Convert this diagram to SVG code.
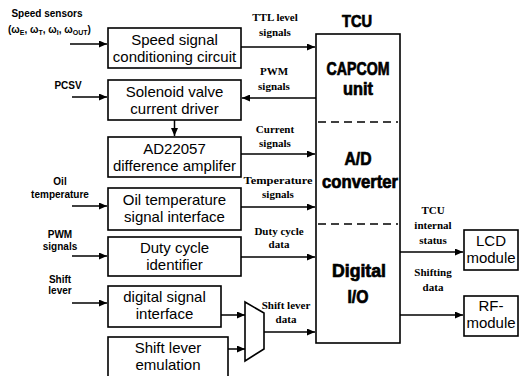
<svg xmlns="http://www.w3.org/2000/svg" width="523" height="376" viewBox="0 0 523 376">
<defs>
<marker id="arr" markerWidth="8" markerHeight="7" refX="8" refY="3.5" orient="auto" markerUnits="userSpaceOnUse"><path d="M0,0 L8,3.5 L0,7 z" fill="#000"/></marker>
</defs>
<style>
.box{fill:#fff;stroke:#000;stroke-width:1.6}
.bt{font-family:"Liberation Sans",Arial,sans-serif;font-size:15px;text-anchor:middle;fill:#000}
.ll{font-family:"Liberation Sans",Arial,sans-serif;font-size:10px;font-weight:bold;text-anchor:middle;fill:#000}
.rl{font-family:"Liberation Serif","Times New Roman",serif;font-size:11px;font-weight:bold;text-anchor:middle;fill:#000}
.tcu{font-family:"Liberation Sans",Arial,sans-serif;font-weight:bold;text-anchor:middle;fill:#000;stroke:#000;stroke-width:0.7}
.ln{fill:none;stroke:#000;stroke-width:1.5}
.ar{fill:none;stroke:#000;stroke-width:1.5;marker-end:url(#arr)}
.dash{stroke:#000;stroke-width:1.5;stroke-dasharray:8 5}
</style>
<rect width="523" height="376" fill="#fff"/>

<g id="lbl-speed">
<text class="ll" x="47" y="17">Speed sensors</text>
<text class="ll" x="8" y="33" style="text-anchor:start">(ω<tspan font-size="7" dy="2">E</tspan><tspan dy="-2">, ω</tspan><tspan font-size="7" dy="2">T</tspan><tspan dy="-2">, ω</tspan><tspan font-size="7" dy="2">I</tspan><tspan dy="-2">, ω</tspan><tspan font-size="7" dy="2">OUT</tspan><tspan dy="-2">)</tspan></text>
</g>
<g id="lbl-pcsv"><text class="ll" x="68" y="89">PCSV</text></g>
<g id="lbl-oil"><text class="ll" x="60" y="185">Oil</text><text class="ll" x="60" y="198">temperature</text></g>
<g id="lbl-pwm"><text class="ll" x="60" y="238">PWM</text><text class="ll" x="60" y="250">signals</text></g>
<g id="lbl-shift"><text class="ll" x="60" y="283">Shift</text><text class="ll" x="60" y="294">lever</text></g>

<g id="speed-cond"><rect class="box" x="108" y="28" width="133" height="40"/><text class="bt" x="174.5" y="45">Speed signal</text><text class="bt" x="174.5" y="62">conditioning circuit</text></g>
<g id="solenoid"><rect class="box" x="108" y="80" width="133" height="40"/><text class="bt" x="174.5" y="97">Solenoid valve</text><text class="bt" x="174.5" y="114">current driver</text></g>
<g id="ad22057"><rect class="box" x="108" y="137" width="133" height="40"/><text class="bt" x="174.5" y="154">AD22057</text><text class="bt" x="174.5" y="171">difference amplifer</text></g>
<g id="oil-if"><rect class="box" x="108" y="188" width="133" height="42"/><text class="bt" x="174.5" y="205">Oil temperature</text><text class="bt" x="174.5" y="222">signal interface</text></g>
<g id="duty"><rect class="box" x="108" y="237" width="133" height="39"/><text class="bt" x="174.5" y="253">Duty cycle</text><text class="bt" x="174.5" y="270">identifier</text></g>
<g id="digital-if"><rect class="box" x="108" y="286" width="113" height="41"/><text class="bt" x="164.5" y="302">digital signal</text><text class="bt" x="164.5" y="319">interface</text></g>
<g id="shift-emu"><rect class="box" x="108" y="337" width="120" height="45"/><text class="bt" x="168" y="353">Shift lever</text><text class="bt" x="168" y="370">emulation</text></g>

<g id="mux"><path class="box" d="M245,302 L264,313 L264,349 L245,361 Z"/></g>

<g id="tcu">
<text class="tcu" x="357" y="27" font-size="16" textLength="30" lengthAdjust="spacingAndGlyphs">TCU</text>
<rect class="box" x="316" y="34" width="84" height="309"/>
<line class="dash" x1="318" y1="122" x2="398" y2="122"/>
<line class="dash" x1="318" y1="224" x2="398" y2="224"/>
<text class="tcu" x="358" y="75" font-size="18" textLength="63" lengthAdjust="spacingAndGlyphs">CAPCOM</text>
<text class="tcu" x="358" y="95" font-size="18" textLength="30" lengthAdjust="spacingAndGlyphs">unit</text>
<text class="tcu" x="358" y="165" font-size="18" textLength="27" lengthAdjust="spacingAndGlyphs">A/D</text>
<text class="tcu" x="360" y="188" font-size="18" textLength="76" lengthAdjust="spacingAndGlyphs">converter</text>
<text class="tcu" x="359" y="277" font-size="18" textLength="54" lengthAdjust="spacingAndGlyphs">Digital</text>
<text class="tcu" x="358" y="303" font-size="18" textLength="21" lengthAdjust="spacingAndGlyphs">I/O</text>
</g>

<g id="lcd"><rect class="box" x="464" y="230" width="54" height="40"/><text class="bt" x="491" y="246">LCD</text><text class="bt" x="491" y="263">module</text></g>
<g id="rf"><rect class="box" x="464" y="296" width="54" height="40"/><text class="bt" x="491" y="311">RF-</text><text class="bt" x="491" y="328">module</text></g>

<g id="connectors">
<line class="ar" x1="70" y1="44" x2="107" y2="44"/>
<line class="ar" x1="72" y1="97" x2="107" y2="97"/>
<line class="ar" x1="72" y1="206" x2="107" y2="206"/>
<line class="ar" x1="72" y1="256" x2="107" y2="256"/>
<line class="ar" x1="72" y1="303" x2="107" y2="303"/>
<line class="ar" x1="174.5" y1="120" x2="174.5" y2="136"/>
<line class="ar" x1="241" y1="47" x2="315" y2="47"/>
<line class="ar" x1="316" y1="98" x2="242" y2="98"/>
<line class="ar" x1="241" y1="154" x2="315" y2="154"/>
<line class="ar" x1="241" y1="207" x2="315" y2="207"/>
<line class="ar" x1="241" y1="257" x2="315" y2="257"/>
<line class="ar" x1="221" y1="315" x2="245" y2="315"/>
<line class="ar" x1="228" y1="349" x2="245" y2="349"/>
<line class="ar" x1="264" y1="332" x2="315" y2="332"/>
<line class="ar" x1="400" y1="252" x2="463" y2="252"/>
<line class="ar" x1="400" y1="315" x2="463" y2="315"/>
<text class="rl" x="275" y="21">TTL level</text><text class="rl" x="275" y="36">signals</text>
<text class="rl" x="274" y="75">PWM</text><text class="rl" x="274" y="90">signals</text>
<text class="rl" x="275" y="133">Current</text><text class="rl" x="275" y="147">signals</text>
<text class="rl" x="278" y="184" textLength="69" lengthAdjust="spacingAndGlyphs">Temperature</text><text class="rl" x="278" y="198">signals</text>
<text class="rl" x="279" y="235">Duty cycle</text><text class="rl" x="279" y="248">data</text>
<text class="rl" x="286" y="309">Shift lever</text><text class="rl" x="286" y="323">data</text>
<text class="rl" x="433" y="214">TCU</text><text class="rl" x="433" y="229">internal</text><text class="rl" x="433" y="244">status</text>
<text class="rl" x="433" y="276">Shifting</text><text class="rl" x="433" y="291">data</text>
</g>
</svg>
